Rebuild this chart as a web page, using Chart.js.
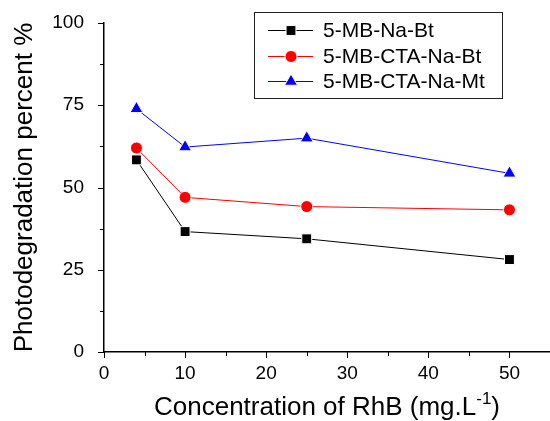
<!DOCTYPE html>
<html>
<head>
<meta charset="utf-8">
<script src="https://cdn.jsdelivr.net/npm/chart.js@4/dist/chart.umd.min.js"></script>
<style>
  html, body { margin: 0; padding: 0; background: #fff; }
  #wrap { width: 550px; height: 421px; position: relative; }
</style>
</head>
<body>
<div id="wrap"><canvas id="degradChart"></canvas></div>
<script>
'use strict';

// RhB concentration (mg/L)
var concentrations = [4, 10, 25, 50];

// photodegradation percent per sample
var mbNaBt     = [58.4, 36.6, 34.4, 28.1];
var mbCtaNaBt  = [62.0, 47.0, 44.2, 43.2];
var mbCtaNaMt  = [73.9, 62.3, 65.0, 54.3];

var seriesNames = ['5-MB-Na-Bt', '5-MB-CTA-Na-Bt', '5-MB-CTA-Na-Mt'];

var xTicks = [0, 10, 20, 30, 40, 50];
var yTicks = [0, 25, 50, 75, 100];

var FONT = 'Arial, "Liberation Sans", sans-serif';

function toPoints(values) {
  return concentrations.map(function(c, i) { return { x: c, y: values[i] }; });
}

function makeSet(label, values, color, style, radius) {
  return {
    label: label,
    data: toPoints(values),
    borderColor: color,
    borderWidth: 1,
    backgroundColor: color,
    pointStyle: style,
    pointRadius: radius,
    pointHoverRadius: radius,
    pointBackgroundColor: color,
    pointBorderColor: '#fff',
    pointBorderWidth: 1,
    tension: 0,
    clip: false
  };
}

// outward tick marks, long at labelled values, short halfway between
var tickMarks = {
  id: 'tickMarks',
  afterDraw: function(chart) {
    var ctx = chart.ctx, xs = chart.scales.x, ys = chart.scales.y;
    var area = chart.chartArea;
    ctx.save();
    ctx.strokeStyle = '#000';
    ctx.lineWidth = 1;
    ctx.beginPath();
    for (var v = 0; v <= 55; v += 5) {
      var px = Math.round(xs.getPixelForValue(v)) + 0.5;
      var len = v % 10 === 0 ? 6 : 4;
      ctx.moveTo(px, area.bottom);
      ctx.lineTo(px, area.bottom + len);
    }
    for (var w = 0; w <= 100; w += 12.5) {
      var py = Math.round(ys.getPixelForValue(w)) + 0.5;
      var l = w % 25 === 0 ? 6 : 4;
      ctx.moveTo(area.left, py);
      ctx.lineTo(area.left - l, py);
    }
    ctx.stroke();
    ctx.restore();
  }
};

// axis titles (x title has a superscript)
var axisTitles = {
  id: 'axisTitles',
  afterDraw: function(chart) {
    var ctx = chart.ctx, area = chart.chartArea;
    ctx.save();
    ctx.fillStyle = '#000';
    ctx.textBaseline = 'alphabetic';

    var big = '26px ' + FONT, small = '17px ' + FONT;
    var parts = [['Concentration of RhB (mg.L', big, 0], ['-1', small, -11], [')', big, 0]];
    var total = 0;
    parts.forEach(function(p) { ctx.font = p[1]; total += ctx.measureText(p[0]).width; });
    var x = (area.left + area.right) / 2 - total / 2;
    parts.forEach(function(p) {
      ctx.font = p[1];
      ctx.textAlign = 'left';
      ctx.fillText(p[0], x, 415 + p[2]);
      x += ctx.measureText(p[0]).width;
    });

    ctx.translate(32, (area.top + area.bottom) / 2);
    ctx.rotate(-Math.PI / 2);
    ctx.font = big;
    ctx.textAlign = 'center';
    ctx.fillText('Photodegradation percent %', 0, 0);
    ctx.restore();
  }
};

// boxed legend with line + marker samples
var boxLegend = {
  id: 'boxLegend',
  afterDraw: function(chart) {
    var ctx = chart.ctx;
    ctx.save();
    ctx.strokeStyle = '#222';
    ctx.lineWidth = 1;
    ctx.strokeRect(254.5, 12.5, 248, 86);
    var rows = [30.5, 56.5, 81.5];
    chart.data.datasets.forEach(function(ds, i) {
      var y = rows[i];
      ctx.strokeStyle = ds.borderColor;
      ctx.lineWidth = 1;
      ctx.beginPath();
      ctx.moveTo(268, y);
      ctx.lineTo(313, y);
      ctx.stroke();
      ctx.fillStyle = ds.pointBackgroundColor;
      ctx.strokeStyle = '#fff';
      Chart.helpers.drawPoint(ctx, {
        pointStyle: ds.pointStyle,
        radius: ds.pointRadius,
        rotation: 0,
        borderWidth: 1
      }, 291, y);
      ctx.fillStyle = '#000';
      ctx.font = '21px ' + FONT;
      ctx.textAlign = 'left';
      ctx.textBaseline = 'middle';
      ctx.fillText(seriesNames[i], 323, y + 1);
    });
    ctx.restore();
  }
};

new Chart(document.getElementById('degradChart'), {
  type: 'line',
  data: {
    datasets: [
      makeSet(seriesNames[0], mbNaBt, '#000000', 'rect', 7),
      makeSet(seriesNames[1], mbCtaNaBt, '#ff0000', 'circle', 6),
      makeSet(seriesNames[2], mbCtaNaMt, '#0000ff', 'triangle', 7.5)
    ]
  },
  options: {
    responsive: true,
    maintainAspectRatio: false,
    animation: false,
    events: [],
    layout: { autoPadding: false, padding: { top: 23, right: 0, left: 0, bottom: 0 } },
    plugins: {
      legend: { display: false },
      tooltip: { enabled: false }
    },
    scales: {
      x: {
        type: 'linear',
        min: 0,
        max: 55,
        afterFit: function(scale) {
          scale.height = 69;
          scale.paddingLeft = 0;
          scale.paddingRight = 0;
        },
        afterBuildTicks: function(scale) {
          scale.ticks = xTicks.map(function(v) { return { value: v }; });
        },
        grid: { display: false },
        border: { display: true, color: '#000', width: 1.5 },
        ticks: {
          autoSkip: false,
          maxRotation: 0,
          padding: 2,
          color: '#000',
          font: { family: FONT, size: 19 }
        }
      },
      y: {
        min: 0,
        max: 100,
        afterFit: function(scale) {
          scale.width = 104;
          scale.paddingTop = 0;
          scale.paddingBottom = 0;
        },
        afterBuildTicks: function(scale) {
          scale.ticks = yTicks.map(function(v) { return { value: v }; });
        },
        grid: { display: false },
        border: { display: true, color: '#000', width: 1.5 },
        ticks: {
          padding: 12,
          color: '#000',
          font: { family: FONT, size: 19 }
        }
      }
    }
  },
  plugins: [tickMarks, axisTitles, boxLegend]
});
</script>
</body>
</html>
